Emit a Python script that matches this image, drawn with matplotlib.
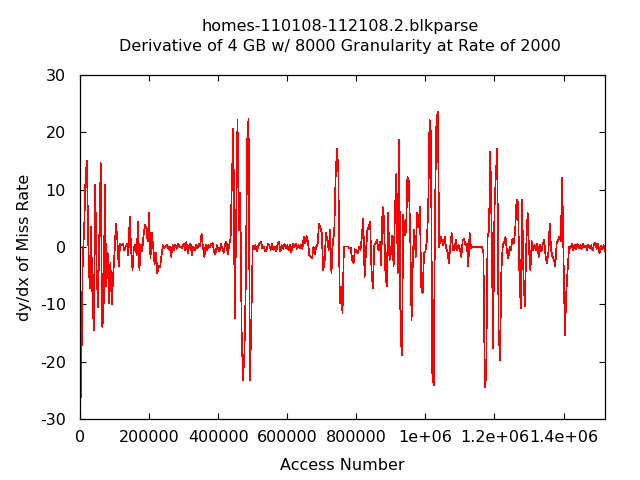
import numpy as np
import matplotlib
matplotlib.use("Agg")
import matplotlib.pyplot as plt

# derivative samples, one every 4000 accesses
seg_a = [-31, -21, -2, 3, 12, 15, 0.6, -7.2, 3.5, -8.5,
         -14.5, 10.8, -3.7, -10.5, 1.8, 14.6, -13.9, -12.7, 10.8, -6.9,
         -1, -9.8, -2.8, -10, -5, -1, 4, 1.5, -3.4, 0.6,
         0.3, 0.6, -0.5, 0, 0.6, -1.5, 5.3, -0.5, -4, 0,
         0.4, -1.4, 4.4, -4, 0.4, -0.8, 2, 3.8]
seg_b = [3.2, 1, 5.9, -2, 2.4, 0, -3, -1, -4.6, -3.2,
         -3.5, -1.5, 0.3, -0.2, 0.1, 0.3, -0.3, 0.1, -1.7, 0.3,
         -0.5, 0.4, -0.3, 0.6, 0, 0.1, -0.2, 0.6, -0.5, 0.9,
         -1.1, 0.2, 0.6, -1.4, 0.1, -0.6, 0.3, -0.2, 0.6, 0.2,
         2.3, 0, -1.7, 0.4, -0.6, 0.3, -0.1, 0.5]
seg_c = [0.7, -0.8, -1.3, 0.3, -0.4, -0.8, 0.5, -0.2, -1, 0.6,
         0.9, -1.3, 0.4, 1.5, 12.3, 20.7, -12.4, 3.5, 22.2, 3,
         9.4, -14.8, -23.2, -18.5, -6.3, 18.4, 22.4, -23.2, -13, 0.2,
         -0.4, 0.3, -0.8, 0.2, 0.6, 0.9, -0.2, 0.1, -0.8, -0.5,
         0.6, 0.3, -0.5, 0.6, -0.5, 0.1, -0.8]
seg_d = [0.5, 0.9, -0.8, 0.3, -0.3, 0.5, -0.2, 0.3, -0.6, 0.4,
         -0.9, 0.5, -0.1, 0.6, -0.3, 0.3, -0.2, 0.4, -0.3, 1.8,
         0.6, 1.9, 0.9, -1.4, -1.7, -2, 0.1, -1.2, 0, 0.6,
         4.1, 3.5, 2.4, -4, -2.8, 2.4, 1.2, -0.5, 3, -4.6,
         0.9, 2.4, 12, 17.2, 13.1, -9.8, -7]
seg_e = [-11.6, 0, 0.1, 0.1, 0.1, -0.2, -0.2, -2.3, -2.8, -0.4,
         -0.6, -1.1, 0.1, -0.5, 1.8, 5, -5.2, -0.8, 3, 3.5,
         4.4, -4, -7.2, 0.3, 0.6, 1.2, -0.5, 0.9, -3.1, 7,
         5, -4, -6.9, 5.9, -2.3, -1.1, 2, -3.4, 6.5, 12.8,
         -4.5, 18.7, -15.3, -18.8, 5.6, 2, 2.7, 12.3]
seg_f = [11.4, 2.4, -12.7, -1, 3, -1.7, 5.9, 3.5, 7, -6.9,
         -8.1, -1.1, -0.8, 0.9, 6.2, 22.2, 19.8, -22, -24.1, 7,
         22.2, 23.6, 0, 1.8, 1.2, 0.3, 1.8, -0.2, -0.8, -2.8,
         0.1, 2.4, -0.5, -0.5, 1.2, -0.5, 0.3, -0.5, -1.7, 1.2,
         1.5, 0.3, 0.6, -3.4, 2.4, -0.2, 0, 0]
seg_g = [0, 0, 0, 0, 0, 0, -1, -24.4, -22.6, 1.8,
         2.7, 16.6, 2, -17.7, 6.7, 12.6, 17.2, -14.5, -19.7, -4,
         0.3, 0.9, 1.8, -0.8, -2, 0.1, -0.5, 1.5, 0.6, 3,
         8.2, 7.9, -4, -10.7, 8.2, -5.2, -10.4, 0.3, 5.9, -0.5,
         -4, 1, -0.6, 0.3, -0.5, 0.6, -1.7, 0.3, -0.8]
seg_h = [0.6, 1.2, -1.7, -2.8, -0.9, 4.1, -0.5, -1.7, -2.2, -3.4,
         0.6, 1.2, 1.8, 1, 12, -2.3, -15.3, -7.8, -3.7, 0.1,
         -0.2, 0.6, -0.5, 0.4, -0.3, 0.5, -0.2, 0.3, -0.4, 0.6,
         -0.1, 0.2, -0.5, 0.4, -0.2, 0.3, -0.6, 0.4, 0.8, -0.3,
         0.6, -1.1, 0.2, -0.4, 0.3, -0.8]

step = 4000
xticks = [0, 200000, 400000, 600000, 800000, 1000000, 1200000, 1400000]
xtick_labels = ["0", "200000", "400000", "600000", "800000",
                "1e+06", "1.2e+06", "1.4e+06"]
yticks = [-30, -20, -10, 0, 10, 20, 30]

dydx = np.array(seg_a + seg_b + seg_c + seg_d + seg_e + seg_f + seg_g + seg_h)
access = np.arange(len(dydx)) * step

plt.rcParams['font.family'] = ['DejaVu Sans']
plt.rcParams['font.size'] = 11.5
plt.rcParams['axes.unicode_minus'] = False

fig = plt.figure(figsize=(6.4, 4.8), dpi=100)
ax = fig.add_axes([80 / 640, 61 / 480, 525 / 640, 344 / 480])
ax.plot(access, dydx, color='red', linewidth=0.5, antialiased=False)

ax.set_xlim(0, 1520000)
ax.set_ylim(-30, 30)
ax.set_xticks(xticks)
ax.set_xticklabels(xtick_labels)
ax.set_yticks(yticks)
ax.tick_params(direction='in', length=4.5, width=0.8, top=True, right=True,
               color='black')
ax.tick_params(axis='x', pad=8)
ax.tick_params(axis='y', pad=10)
for s in ax.spines.values():
    s.set_linewidth(0.9)

ax.set_xlabel("Access Number", labelpad=9)
ax.set_ylabel("dy/dx of Miss Rate", labelpad=6)

fig.text(340 / 640, 1 - 27 / 480, "homes-110108-112108.2.blkparse",
         ha='center', va='center')
fig.text(340 / 640, 1 - 46 / 480,
         "Derivative of 4 GB w/ 8000 Granularity at Rate of 2000",
         ha='center', va='center')

fig.savefig("out.png", dpi=100)
